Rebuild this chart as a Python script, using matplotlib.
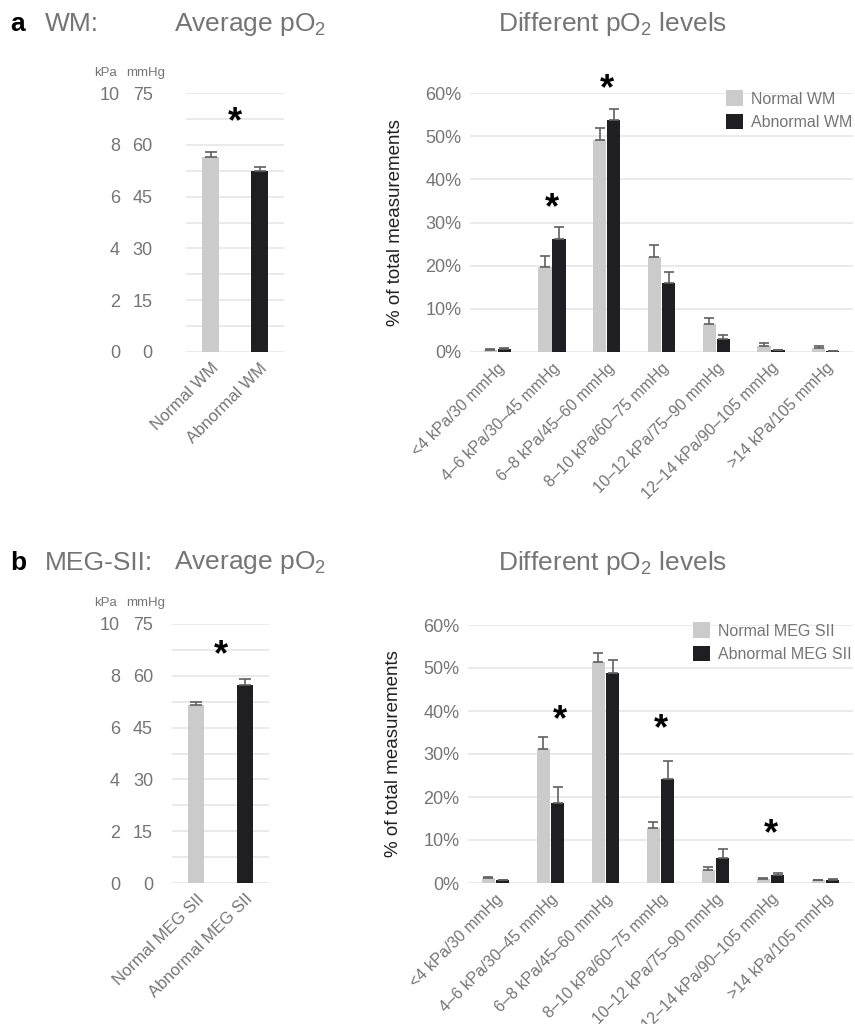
import matplotlib
matplotlib.use("Agg")
import matplotlib.pyplot as plt
import matplotlib.transforms as mtransforms
import numpy as np

plt.rcParams['font.family'] = ['Liberation Sans', 'DejaVu Sans']
plt.rcParams['mathtext.default'] = 'regular'

GRAY_TXT = '#757575'
LIGHT = '#cbcbcb'
DARK = '#1f1f21'
ERR = '#606060'
GRID = '#e6e6e6'

# pO2 categories (right panels)
levels = ['<4 kPa/30 mmHg', '4\u20136 kPa/30\u201345 mmHg', '6\u20138 kPa/45\u201360 mmHg',
          '8\u201310 kPa/60\u201375 mmHg', '10\u201312 kPa/75\u201390 mmHg',
          '12\u201314 kPa/90\u2013105 mmHg', '>14 kPa/105 mmHg']

# a: WM, average pO2 (mmHg)
wm_groups = ['Normal WM', 'Abnormal WM']
wm_avg = [56.5, 52.5]
wm_avg_err = [1.3, 1.0]

# a: WM, % of measurements per level
wm_normal = [0.5, 19.7, 49.1, 21.9, 6.4, 1.5, 0.9]
wm_normal_err = [0.3, 2.5, 2.8, 2.9, 1.5, 0.5, 0.4]
wm_abnormal = [0.7, 26.2, 53.8, 16.0, 3.1, 0.4, 0.2]
wm_abnormal_err = [0.2, 2.7, 2.5, 2.6, 0.8, 0.1, 0.1]
wm_stars = [(1, 35.2), (2, 62.8)]
wm_avg_star = 68.9

# b: MEG SII, average pO2 (mmHg)
meg_groups = ['Normal MEG SII', 'Abnormal MEG SII']
meg_avg = [51.5, 57.2]
meg_avg_err = [1.0, 1.9]

# b: MEG SII, % of measurements per level
meg_normal = [1.2, 31.1, 51.3, 12.7, 3.0, 0.9, 0.6]
meg_normal_err = [0.2, 2.9, 2.3, 1.5, 0.7, 0.3, 0.1]
meg_abnormal = [0.6, 18.5, 48.8, 24.3, 5.7, 1.9, 0.8]
meg_abnormal_err = [0.2, 3.9, 3.1, 4.0, 2.1, 0.4, 0.1]
meg_stars = [(1.18, 39.8), (3, 37.7), (5, 13.4)]
meg_avg_star = 68.4

fig = plt.figure(figsize=(8.55, 10.24), dpi=100)


def px_axes(x0, y0, x1, y1):
    W, H = 855, 1024
    return fig.add_axes([x0 / W, 1 - y1 / H, (x1 - x0) / W, (y1 - y0) / H])


def clean(ax):
    for s in ax.spines.values():
        s.set_visible(False)
    ax.tick_params(length=0)
    ax.set_axisbelow(True)


def star(ax, x, y):
    # the asterisk glyph sits high in its box, so nudge it down a bit
    tr = mtransforms.offset_copy(ax.transData, fig=fig, y=-6.5, units='points')
    ax.text(x, y, '*', ha='center', va='center', fontsize=26,
            fontweight='bold', color='black', transform=tr)


def avg_panel(ax, groups, vals, errs, star_y, mm_pad, kpa_loc):
    clean(ax)
    x = np.arange(len(groups))
    ax.bar(x, vals, width=0.33, color=[LIGHT, DARK])
    ax.errorbar(x, vals, yerr=[np.zeros(len(vals)), errs], fmt='none',
                ecolor=ERR, elinewidth=1.2, capsize=4.3, capthick=1.2)
    ax.set_xlim(-0.5, 1.5)
    ax.set_ylim(0, 75)
    ax.set_yticks(np.arange(0, 76, 15))
    ax.set_yticks(np.arange(0, 76, 7.5), minor=True)
    ax.yaxis.grid(True, which='both', color=GRID, lw=1.2)
    ax.tick_params(axis='y', which='both', length=0, pad=mm_pad,
                   labelsize=13, labelcolor=GRAY_TXT)
    ax.set_xticks(x)
    ax.set_xticklabels(groups, rotation=45, ha='right', rotation_mode='anchor',
                       fontsize=12, color=GRAY_TXT)
    ax.tick_params(axis='x', pad=6)
    sec = ax.secondary_yaxis(kpa_loc, functions=(lambda v: v / 7.5, lambda v: v * 7.5))
    sec.set_yticks(np.arange(0, 11, 2))
    sec.tick_params(length=0, pad=0, labelsize=13, labelcolor=GRAY_TXT)
    for s in sec.spines.values():
        s.set_visible(False)
    star(ax, 0.5, star_y)


def level_panel(ax, normal, nerr, abnormal, aerr, stars, labels, leg_x):
    clean(ax)
    x = np.arange(len(levels))
    w = 0.245
    off = 0.128
    ax.bar(x - off, normal, width=w, color=LIGHT, label=labels[0])
    ax.bar(x + off, abnormal, width=w, color=DARK, label=labels[1])
    ax.errorbar(x - off, normal, yerr=[np.zeros(len(x)), nerr], fmt='none',
                ecolor=ERR, elinewidth=1.2, capsize=3.6, capthick=1.2)
    ax.errorbar(x + off, abnormal, yerr=[np.zeros(len(x)), aerr], fmt='none',
                ecolor=ERR, elinewidth=1.2, capsize=3.6, capthick=1.2)
    ax.set_xlim(-0.5, 6.5)
    ax.set_ylim(0, 60)
    ax.set_yticks(np.arange(0, 61, 10))
    ax.set_yticklabels(['%d%%' % v for v in range(0, 61, 10)])
    ax.yaxis.grid(True, color=GRID, lw=1.2)
    ax.tick_params(axis='y', length=0, pad=6, labelsize=13, labelcolor=GRAY_TXT)
    ax.set_xticks(x)
    ax.set_xticklabels(levels, rotation=45, ha='right', rotation_mode='anchor',
                       fontsize=11.5, color=GRAY_TXT)
    ax.tick_params(axis='x', pad=6)
    ax.set_ylabel('% of total measurements', fontsize=13.5, color='#222222')
    ax.yaxis.set_label_coords(-0.172, 0.5)
    for sx, sy in stars:
        star(ax, sx, sy)
    ax.legend(loc='upper left', bbox_to_anchor=(leg_x, 1.01), frameon=False,
              fontsize=11.5, labelcolor=GRAY_TXT, handlelength=1.1,
              handleheight=1.1, handletextpad=0.5, labelspacing=0.45,
              borderpad=0, borderaxespad=0)


def header(y, letter, name):
    fig.text(10 / 855, 1 - y / 1024, letter, fontsize=19, fontweight='bold',
             color='black', va='center')
    fig.text(45 / 855, 1 - y / 1024, name, fontsize=19, color=GRAY_TXT, va='center')
    fig.text(250 / 855, 1 - y / 1024, 'Average pO$_2$', fontsize=19,
             color=GRAY_TXT, va='center', ha='center')
    fig.text(613 / 855, 1 - y / 1024, 'Different pO$_2$ levels', fontsize=19,
             color=GRAY_TXT, va='center', ha='center')


def units(y):
    fig.text(105 / 855, 1 - y / 1024, 'kPa', fontsize=9.5, color=GRAY_TXT,
             ha='center', va='center')
    fig.text(146 / 855, 1 - y / 1024, 'mmHg', fontsize=9.5, color=GRAY_TXT,
             ha='center', va='center')


# panel a
header(24, 'a', 'WM:')
units(73)
ax1 = px_axes(186, 93, 284, 352)
avg_panel(ax1, wm_groups, wm_avg, wm_avg_err, wm_avg_star, 24, -0.673)
ax2 = px_axes(470, 93, 853, 352)
level_panel(ax2, wm_normal, wm_normal_err, wm_abnormal, wm_abnormal_err,
            wm_stars, ['Normal WM', 'Abnormal WM'], 0.668)

# panel b
header(563, 'b', 'MEG-SII:')
units(603)
ax3 = px_axes(172, 624, 269, 883)
avg_panel(ax3, meg_groups, meg_avg, meg_avg_err, meg_avg_star, 13.7, -0.536)
ax4 = px_axes(468, 625, 853, 883)
level_panel(ax4, meg_normal, meg_normal_err, meg_abnormal, meg_abnormal_err,
            meg_stars, ['Normal MEG SII', 'Abnormal MEG SII'], 0.584)

fig.savefig('out.png', dpi=100)
